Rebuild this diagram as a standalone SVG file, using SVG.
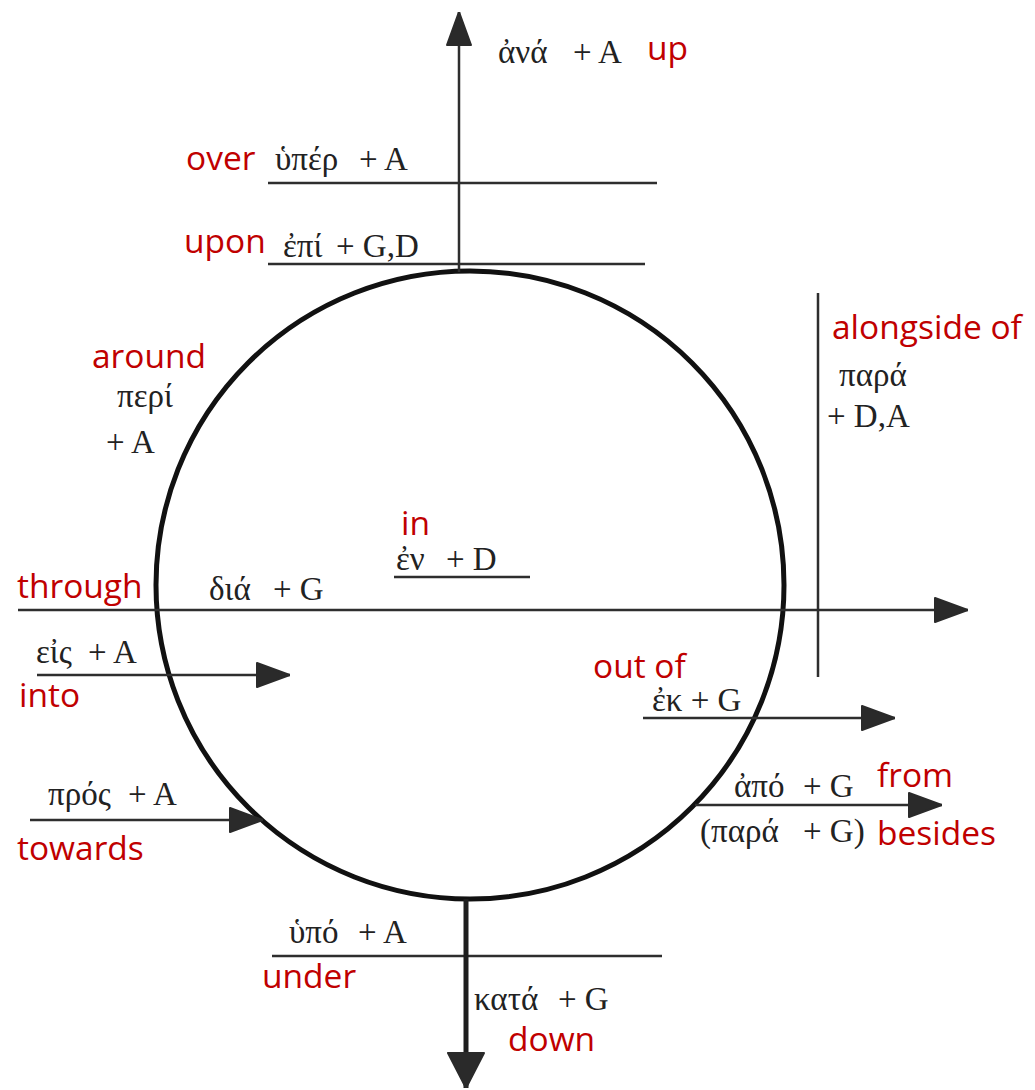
<svg xmlns="http://www.w3.org/2000/svg" width="1035" height="1090" viewBox="0 0 1035 1090">
<style>
.g{font-family:"Liberation Serif","DejaVu Serif",serif;font-size:33px;fill:#222}
.r{font-family:"Open Sans","Liberation Sans",sans-serif;font-size:33.5px;fill:#C00000}
.ln{stroke:#2e2e2e;stroke-width:2.5;fill:none}
.circ{stroke:#111;stroke-width:5;fill:none}
</style>
<defs>
<marker id="ah" viewBox="0 0 34 26" refX="34" refY="13" markerWidth="34" markerHeight="26" markerUnits="userSpaceOnUse" orient="auto">
<path d="M1,1 L34,13 L1,25 z" fill="#2a2a2a" stroke="#2a2a2a" stroke-width="2" stroke-linejoin="round"/>
</marker>
<marker id="ahBig" viewBox="0 0 36 38" refX="36" refY="19" markerWidth="36" markerHeight="38" markerUnits="userSpaceOnUse" orient="auto">
<path d="M1,1 L36,19 L1,37 z" fill="#2a2a2a" stroke="#2a2a2a" stroke-width="2" stroke-linejoin="round"/>
</marker>
</defs>
<rect width="1035" height="1090" fill="#ffffff"/>

<g id="sphere">
<circle class="circ" cx="470" cy="585" r="314"/>
</g>

<g id="connectors">
<line class="ln" x1="459" y1="272" x2="459" y2="12" marker-end="url(#ah)"/>
<line class="ln" x1="268" y1="183" x2="657" y2="183"/>
<line class="ln" x1="268" y1="264" x2="645" y2="264"/>
<line class="ln" x1="18" y1="610" x2="968" y2="610" marker-end="url(#ah)"/>
<line class="ln" x1="37" y1="675" x2="290" y2="675" marker-end="url(#ah)"/>
<line class="ln" x1="30" y1="820" x2="263" y2="820" marker-end="url(#ah)"/>
<line class="ln" x1="643" y1="718" x2="895" y2="718" marker-end="url(#ah)"/>
<line class="ln" x1="695" y1="805" x2="942" y2="805" marker-end="url(#ah)"/>
<line class="ln" x1="818" y1="293" x2="818" y2="677"/>
<line class="ln" x1="394" y1="577" x2="530" y2="577"/>
<line class="ln" x1="272" y1="956" x2="662" y2="956"/>
<line x1="466" y1="899" x2="466" y2="1088" stroke="#1e1e1e" stroke-width="5" marker-end="url(#ahBig)"/>
</g>

<g id="ana">
<text class="g" x="498" y="63">ἀνά</text><text class="g" x="573" y="63">+ A</text>
<text class="r" x="647" y="60">up</text>
</g>
<g id="hyper">
<text class="r" x="186" y="170">over</text>
<text class="g" x="275" y="170">ὑπέρ</text><text class="g" x="359" y="170">+ A</text>
</g>
<g id="epi">
<text class="r" x="184" y="253">upon</text>
<text class="g" x="283" y="257">ἐπί</text><text class="g" x="336" y="257">+ G,D</text>
</g>
<g id="peri">
<text class="r" x="92" y="368">around</text>
<text class="g" x="117" y="407">περί</text>
<text class="g" x="106" y="453">+ A</text>
</g>
<g id="para-alongside">
<text class="r" x="832" y="339">alongside of</text>
<text class="g" x="839" y="386">παρά</text>
<text class="g" x="827" y="427">+ D,A</text>
</g>
<g id="en">
<text class="r" x="401" y="535">in</text>
<text class="g" x="396" y="570">ἐν</text><text class="g" x="446" y="570">+ D</text>
</g>
<g id="dia">
<text class="r" x="17" y="598">through</text>
<text class="g" x="209" y="600">διά</text><text class="g" x="273" y="600">+ G</text>
</g>
<g id="eis">
<text class="g" x="36" y="663">εἰς</text><text class="g" x="88" y="663">+ A</text>
<text class="r" x="19" y="707">into</text>
</g>
<g id="ek">
<text class="r" x="593" y="678">out of</text>
<text class="g" x="652" y="711">ἐκ + G</text>
</g>
<g id="pros">
<text class="g" x="48" y="805">πρός</text><text class="g" x="128" y="805">+ A</text>
<text class="r" x="17" y="860">towards</text>
</g>
<g id="apo">
<text class="g" x="734" y="797">ἀπό</text><text class="g" x="803" y="797">+ G</text>
<text class="r" x="877" y="787">from</text>
<text class="g" x="700" y="842">(παρά</text><text class="g" x="803" y="842">+ G)</text>
<text class="r" x="877" y="845">besides</text>
</g>
<g id="hypo">
<text class="g" x="289" y="943">ὑπό</text><text class="g" x="358" y="943">+ A</text>
<text class="r" x="262" y="988">under</text>
</g>
<g id="kata">
<text class="g" x="474" y="1010">κατά</text><text class="g" x="558" y="1010">+ G</text>
<text class="r" x="508" y="1051">down</text>
</g>
</svg>
